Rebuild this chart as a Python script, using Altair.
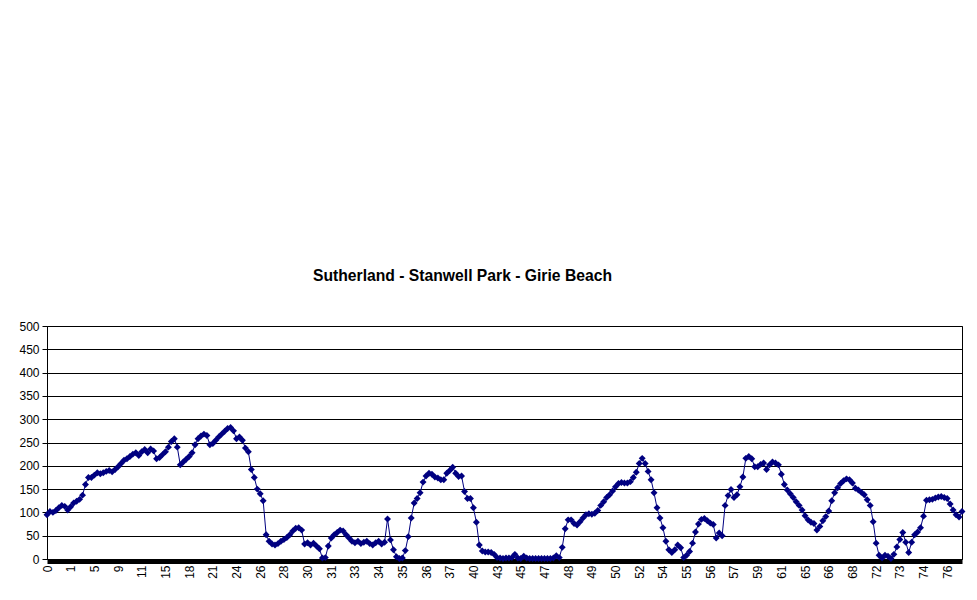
import altair as alt
import pandas as pd

# Elevation profile (m), sampled 8 points per labelled category step
elevation = [
    95, 102, 100, 104, 110, 115, 113, 105, 112, 120,
    124, 128, 137, 160, 175, 175, 180, 185, 183, 185,
    188, 190, 187, 192, 198, 205, 212, 215, 220, 225,
    228, 222, 230, 235, 228, 236, 232, 215, 218, 224,
    230, 240, 252, 258, 240, 202, 208, 214, 220, 228,
    245, 258, 264, 268, 265, 245, 248, 255, 262, 268,
    274, 280, 282, 275, 258, 262, 255, 238, 230, 192,
    175, 150, 140, 125, 52, 38, 32, 30, 33, 38,
    42, 46, 52, 60, 66, 67, 62, 32, 35, 30,
    34, 28, 22, 2, 3, 28, 45, 52, 57, 62,
    60, 52, 45, 38, 35, 38, 33, 36, 38, 33,
    30, 35, 38, 32, 36, 86, 41, 20, 5, 1,
    2, 18, 48, 88, 120, 130, 142, 165, 178, 184,
    182, 176, 174, 170, 170, 184, 190, 197, 184, 177,
    178, 145, 130, 130, 110, 79, 30, 17, 15, 15,
    14, 10, 3, 2, 1, 2, 2, 3, 10, 2,
    1, 6, 2, 1, 1, 1, 1, 1, 1, 1,
    1, 2, 7, 3, 25, 65, 84, 84, 76, 73,
    80, 88, 95, 97, 96, 98, 104, 115, 123, 132,
    138, 146, 155, 162, 164, 163, 163, 166, 175, 186,
    205, 216, 205, 188, 170, 142, 110, 88, 67, 38,
    20, 14, 20, 30, 24, 3, 8, 16, 34, 58,
    75, 85, 87, 82, 77, 74, 45, 56, 50, 115,
    136, 149, 132, 138, 155, 176, 216, 220, 215, 198,
    198, 203, 206, 192, 202, 208, 206, 202, 182, 160,
    148, 140, 132, 123, 115, 105, 93, 84, 79, 76,
    62, 70, 82, 91, 103, 125, 142, 153, 162, 168,
    172, 170, 163, 152, 148, 143, 138, 127, 115, 80,
    34, 8, 2, 8, 6, 1, 10, 26, 42, 57,
    36, 14, 36, 52, 58, 67, 92, 126, 127, 128,
    131, 133, 134, 132, 130, 118, 105, 95, 90, 102,
]

x_labels = ["0", "1", "5", "9", "11", "15", "18", "21", "24", "26", "28", "30",
            "31", "33", "34", "35", "36", "37", "40", "43", "45", "47", "48",
            "49", "50", "52", "54", "55", "56", "57", "59", "61", "65", "66",
            "68", "72", "73", "74", "76"]
label_step = 8
y_ticks = [0, 50, 100, 150, 200, 250, 300, 350, 400, 450, 500]

title_text = "Sutherland - Stanwell Park - Girie Beach"
FONT = "Liberation Sans"
NAVY = "#000080"

df = pd.DataFrame({"i": list(range(len(elevation))), "elev": elevation})
label_js = "[" + ",".join("'" + s + "'" for s in x_labels) + "]"

base = alt.Chart(df).encode(
    x=alt.X(
        "i:Q",
        scale=alt.Scale(domain=[0, len(elevation) - 1], nice=False, zero=False),
        axis=alt.Axis(
            values=[k * label_step for k in range(len(x_labels))],
            labelExpr=label_js + "[round(datum.value/" + str(label_step) + ")]",
            labelAngle=270,
            labelFont=FONT,
            labelFontSize=12,
            labelColor="black",
            labelOverlap=False,
            labelPadding=4,
            domainColor="black",
            domainWidth=5,
            offset=2,
            ticks=False,
            grid=False,
            title=None,
        ),
    ),
    y=alt.Y(
        "elev:Q",
        scale=alt.Scale(domain=[0, 500], nice=False),
        axis=alt.Axis(
            values=y_ticks,
            labelFont=FONT,
            labelFontSize=12,
            labelColor="black",
            labelPadding=3,
            tickColor="black",
            tickSize=5,
            domainColor="black",
            grid=True,
            gridColor="black",
            gridOpacity=1,
            gridWidth=1,
            title=None,
        ),
    ),
)

line = base.mark_line(color=NAVY, strokeWidth=1)
pts = base.mark_point(shape="diamond", filled=True, size=48, color=NAVY, opacity=1)

chart = (
    alt.layer(line, pts)
    .properties(
        width=915,
        height=233,
        autosize=alt.AutoSizeParams(type="none"),
        padding={"left": 39, "top": 318, "right": 7, "bottom": 33},
        title=alt.Title(
            text=title_text,
            font=FONT,
            fontSize=15.7,
            fontWeight="bold",
            color="black",
            anchor="middle",
            frame="group",
            baseline="alphabetic",
            offset=23,
            dx=-42,
        ),
    )
    .configure_view(stroke="black", strokeWidth=1)
)

chart.save("out.html", embed_options={"renderer": "svg", "actions": False})
